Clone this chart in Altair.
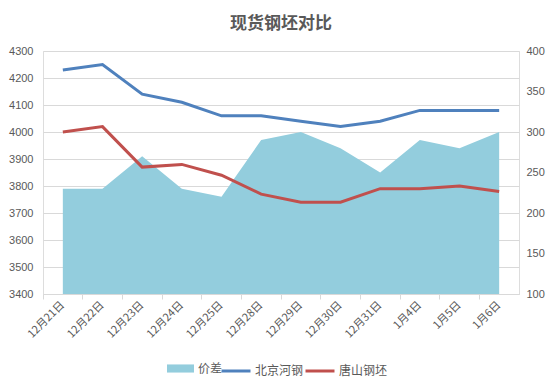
import altair as alt
import pandas as pd

dates = ["12月21日", "12月22日", "12月23日", "12月24日", "12月25日", "12月28日",
         "12月29日", "12月30日", "12月31日", "1月4日", "1月5日", "1月6日"]
beijing = [4230, 4250, 4140, 4110, 4060, 4060, 4040, 4020, 4040, 4080, 4080, 4080]
tangshan = [4000, 4020, 3870, 3880, 3840, 3770, 3740, 3740, 3790, 3790, 3800, 3780]
spread = [230, 230, 270, 230, 220, 290, 300, 280, 250, 290, 280, 300]
left_ticks = [3400, 3500, 3600, 3700, 3800, 3900, 4000, 4100, 4200, 4300]
right_ticks = [100, 150, 200, 250, 300, 350, 400]

df = pd.DataFrame({"date": dates, "北京河钢": beijing, "唐山钢坯": tangshan, "spread": spread})

TXT = "#595959"
GRID = "#D9D9D9"
FONT = "Noto Sans CJK SC"

def xenc():
    return alt.X(
        "date:N", sort=dates, bandPosition=0.5,
        scale=alt.Scale(type="band", paddingInner=0, paddingOuter=0),
        axis=alt.Axis(title=None, labelAngle=-45, labelAlign="right", labelBaseline="middle",
                      bandPosition=0, labelOffset=0, labelPadding=4, grid=False,
                      domainColor=GRID, tickColor=GRID, tickSize=5,
                      labelColor=TXT, labelFont=FONT, labelFontSize=11),
    )

area = alt.Chart(df).transform_calculate(name="'价差'").mark_area().encode(
    x=xenc(),
    y=alt.Y("spread:Q", scale=alt.Scale(domain=[100, 400], zero=False, nice=False),
            axis=alt.Axis(orient="right", values=right_ticks, title=None, grid=False, format="d",
                          domain=False, ticks=False, labelPadding=7,
                          labelColor=TXT, labelFont="Liberation Sans", labelFontSize=11)),
    y2=alt.datum(100),
    fill=alt.Fill("name:N", scale=alt.Scale(domain=["价差"], range=["#93CDDD"]),
                  legend=alt.Legend(title=None, orient="none", legendX=124, legendY=304,
                                    direction="horizontal",
                                    symbolType="M-1,-0.3H1V0.3H-1Z", symbolSize=729,
                                    symbolStrokeWidth=0, symbolOpacity=1,
                                    labelFont=FONT, labelFontSize=12, labelColor=TXT,
                                    labelOffset=4)),
)

lines = alt.Chart(df).transform_fold(["北京河钢", "唐山钢坯"], as_=["series", "price"]).mark_line(
    strokeWidth=3
).encode(
    x=xenc(),
    y=alt.Y("price:Q", scale=alt.Scale(domain=[3400, 4300], zero=False, nice=False),
            axis=alt.Axis(orient="left", values=left_ticks, title=None, grid=True, format="d",
                          gridColor=GRID, domain=False, ticks=False, labelPadding=10,
                          labelColor=TXT, labelFont="Liberation Sans", labelFontSize=11)),
    stroke=alt.Stroke("series:N",
                      scale=alt.Scale(domain=["北京河钢", "唐山钢坯"], range=["#4F81BD", "#C0504D"]),
                      legend=alt.Legend(title=None, orient="none", legendX=177, legendY=304,
                                        direction="horizontal", symbolType="stroke",
                                        symbolSize=841, symbolStrokeWidth=3,
                                        labelFont=FONT, labelFontSize=12, labelColor=TXT,
                                        labelOffset=3, columnPadding=-5)),
    detail="series:N",
)

chart = alt.layer(area, lines).resolve_scale(y="independent").properties(
    width=476, height=243,
    autosize=alt.AutoSizeParams(type="none"),
    padding={"left": 35, "top": 43, "right": 29, "bottom": 94},
    title=alt.Title("现货钢坯对比", font=FONT, fontSize=17, fontWeight="bold", color=TXT,
                    offset=12, anchor="middle"),
).configure_view(stroke=None).configure(background="white")

chart.save("out.html", embed_options={"renderer": "svg", "actions": False})
